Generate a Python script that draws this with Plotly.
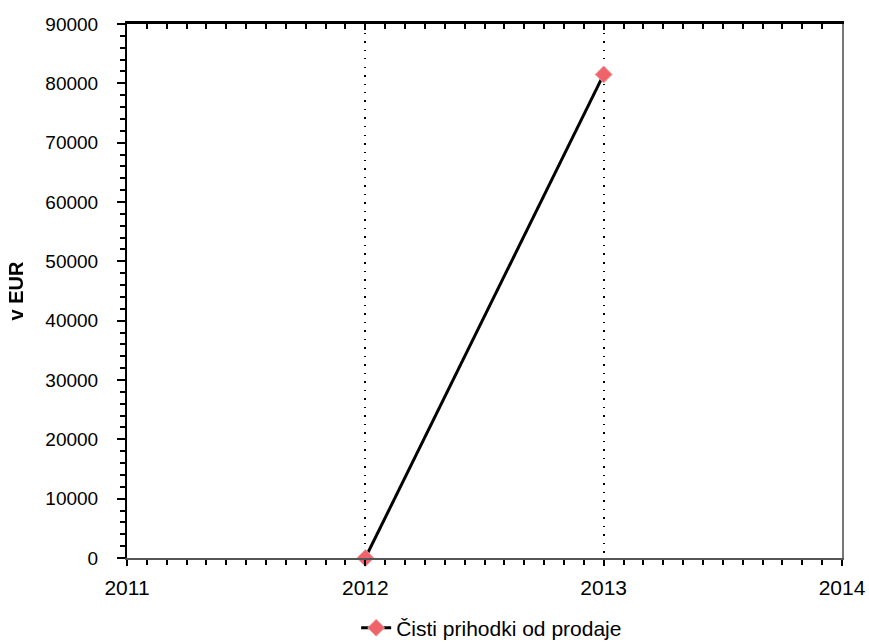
import plotly.graph_objects as go

years = [2012, 2013]
prihodki = [0, 81500]
series_name = "Čisti prihodki od prodaje"
y_title = "v EUR"

x_range = [2011, 2014]
y_range = [0, 90000]

fig = go.Figure()

fig.add_trace(go.Scatter(
    x=years, y=prihodki, name=series_name,
    mode="lines+markers",
    line=dict(color="black", width=3),
    marker=dict(symbol="diamond", size=13, color="#f0636b",
                line=dict(color="#e8a0a0", width=1)),
    cliponaxis=False,
))

# invisible helper trace so the top/right frame axes get drawn
fig.add_trace(go.Scatter(
    x=years, y=prihodki, xaxis="x2", yaxis="y2",
    mode="markers", opacity=0, showlegend=False, hoverinfo="skip",
))

font = dict(family="Liberation Sans, Arial, sans-serif", size=19, color="black")

fig.update_layout(
    width=869, height=644,
    paper_bgcolor="white", plot_bgcolor="white",
    margin=dict(l=127, r=27, t=24, b=86, autoexpand=False),
    font=font,
    showlegend=True,
    legend=dict(orientation="h", x=0.51, xanchor="center", y=-0.093, yanchor="top",
                font=dict(size=21)),
    xaxis=dict(
        range=x_range, dtick=1, tick0=2011, automargin=False,
        showline=True, linecolor="#555", linewidth=1.5,
        ticks="outside", ticklen=6, tickwidth=2, tickcolor="black",
        ticklabelstandoff=4, tickfont=dict(size=21),
        minor=dict(dtick=1/12, ticks="outside", ticklen=5, tickwidth=1.5,
                   tickcolor="black", showgrid=False),
        showgrid=True, gridcolor="black", griddash="1.5px,7px", gridwidth=1.5,
        zeroline=False, tickformat="d",
    ),
    yaxis=dict(
        range=y_range, dtick=10000, automargin=False, tickformat="d",
        showline=True, linecolor="black", linewidth=2,
        ticks="outside", ticklen=8, tickwidth=2, tickcolor="black",
        ticklabelstandoff=15,
        minor=dict(dtick=2000, ticks="outside", ticklen=5, tickwidth=1.5,
                   tickcolor="black", showgrid=False),
        showgrid=False, zeroline=False,
        title=dict(text="<b>" + y_title + "</b>", standoff=16, font=dict(size=20)),
    ),
    xaxis2=dict(
        overlaying="x", side="top", range=x_range, matches="x",
        showline=True, linecolor="black", linewidth=2.5,
        ticks="inside", ticklen=6, tickwidth=2, tickcolor="black",
        dtick=1, tick0=2011,
        minor=dict(dtick=1/12, ticks="inside", ticklen=5, tickwidth=1.5, tickcolor="black"),
        showticklabels=False, showgrid=False, zeroline=False,
    ),
    yaxis2=dict(
        overlaying="y", side="right", range=y_range,
        showline=True, linecolor="#777", linewidth=1.5,
        ticks="", showticklabels=False, showgrid=False, zeroline=False,
    ),
)

fig.write_html("out.html", config={"displayModeBar": False},
               post_script="document.body.style.margin='0';")
